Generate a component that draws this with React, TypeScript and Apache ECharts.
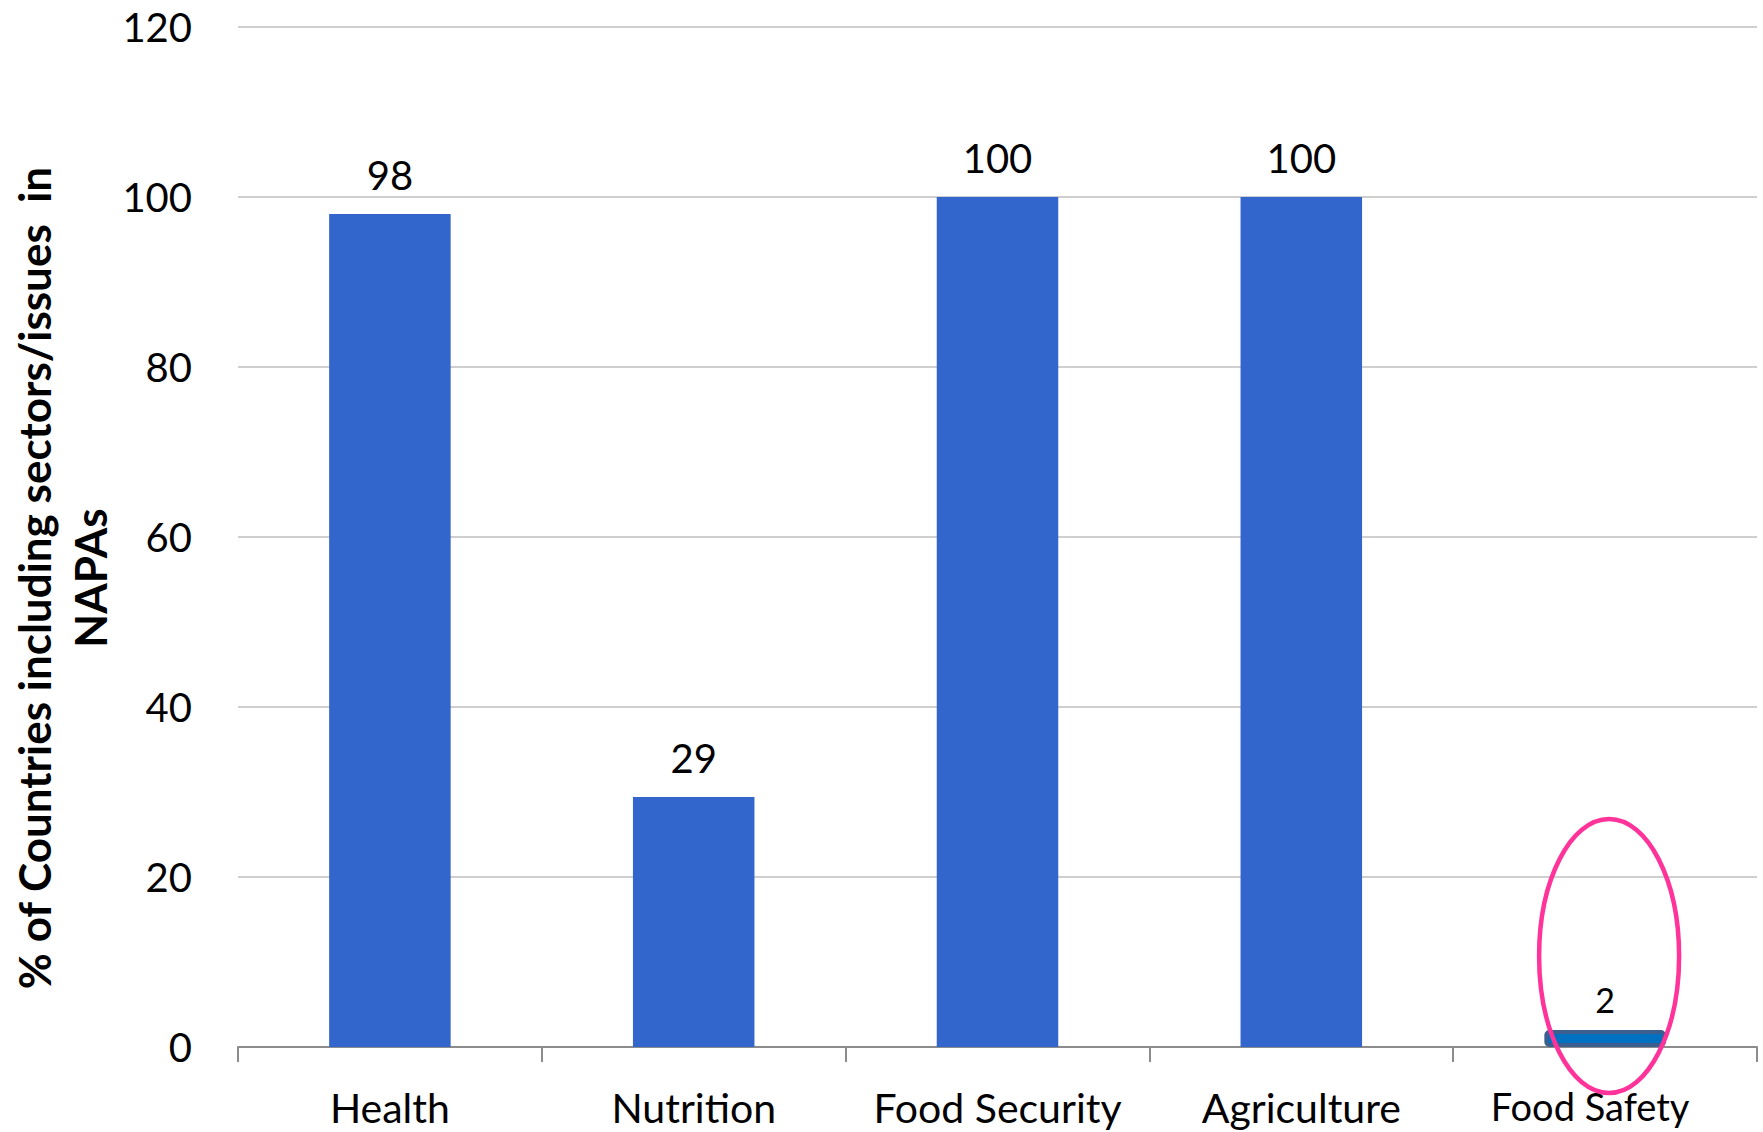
import React, { useEffect, useRef } from "react";
import * as echarts from "echarts";

const categories = ["Health", "Nutrition", "Food Security", "Agriculture", "Food Safety"];
const values = [98, 29.4, 100, 100, 2];
const yTicks = { min: 0, max: 120, interval: 20 };
const yTitle = "% of Countries including sectors/issues  in\nNAPAs";
const highlighted = "Food Safety";

export default function App() {
  const ref = useRef<HTMLDivElement>(null);
  useEffect(() => {
    document.body.style.margin = "0";
    const chart = echarts.init(ref.current!, null, { renderer: "svg" });
    const font = "Lato, 'Noto Sans', sans-serif";
    const title = {
      type: "text",
      x: 62,
      y: 578,
      rotation: Math.PI / 2,
      style: {
        text: yTitle,
        fontSize: 44,
        fontWeight: "bold",
        fontFamily: font,
        fill: "#000",
        align: "center",
        verticalAlign: "middle",
        lineHeight: 56,
      },
    };
    chart.setOption({
      animation: false,
      backgroundColor: "#ffffff",
      grid: { left: 238, right: 6, top: 27, bottom: 85 },
      xAxis: {
        type: "category",
        data: categories.map((c) =>
          c === highlighted
            ? { value: c, textStyle: { fontSize: 38, lineHeight: 38, padding: [0, 30, 0, 0] } }
            : c
        ),
        axisLine: { lineStyle: { color: "#8c8c8c", width: 2 } },
        axisTick: { show: true, interval: 0, length: 15, lineStyle: { color: "#8c8c8c", width: 2 } },
        axisLabel: { interval: 0, color: "#000", fontSize: 41, fontFamily: font, margin: 40, lineHeight: 41 },
        splitLine: { show: false },
      },
      yAxis: {
        type: "value",
        min: yTicks.min,
        max: yTicks.max,
        interval: yTicks.interval,
        axisLine: { show: false },
        axisTick: { show: false },
        axisLabel: { color: "#000", fontSize: 40, fontFamily: font, margin: 46 },
        splitLine: { lineStyle: { color: "#bfbfbf", width: 1.5 } },
      },
      series: [
        {
          type: "bar",
          barWidth: "40%",
          data: values.map((v, i) =>
            categories[i] === highlighted
              ? {
                  value: v,
                  itemStyle: {
                    color: "#0070C0",
                    borderColor: "#3C5F8F",
                    borderWidth: 4,
                    borderRadius: 3,
                  },
                  label: { fontSize: 34, distance: 14 },
                }
              : v
          ),
          itemStyle: { color: "#3366CC" },
          label: {
            show: true,
            position: "top",
            distance: 19,
            color: "#000",
            fontSize: 40,
            fontFamily: font,
            formatter: (p: any) => String(Math.round(p.value)),
          },
        },
      ],
      graphic: [title],
    });
    const c = chart.convertToPixel({ seriesIndex: 0 }, [highlighted, 0]) as number[];
    chart.setOption({
      graphic: [
        title,
        {
          type: "ellipse",
          z: 100,
          shape: { cx: c[0] + 4, cy: c[1] - 91, rx: 70, ry: 137 },
          style: { fill: "none", stroke: "#FF3399", lineWidth: 4.5 },
        },
      ],
    });
    return () => chart.dispose();
  }, []);
  return <div ref={ref} style={{ width: 1763, height: 1132 }} />;
}
